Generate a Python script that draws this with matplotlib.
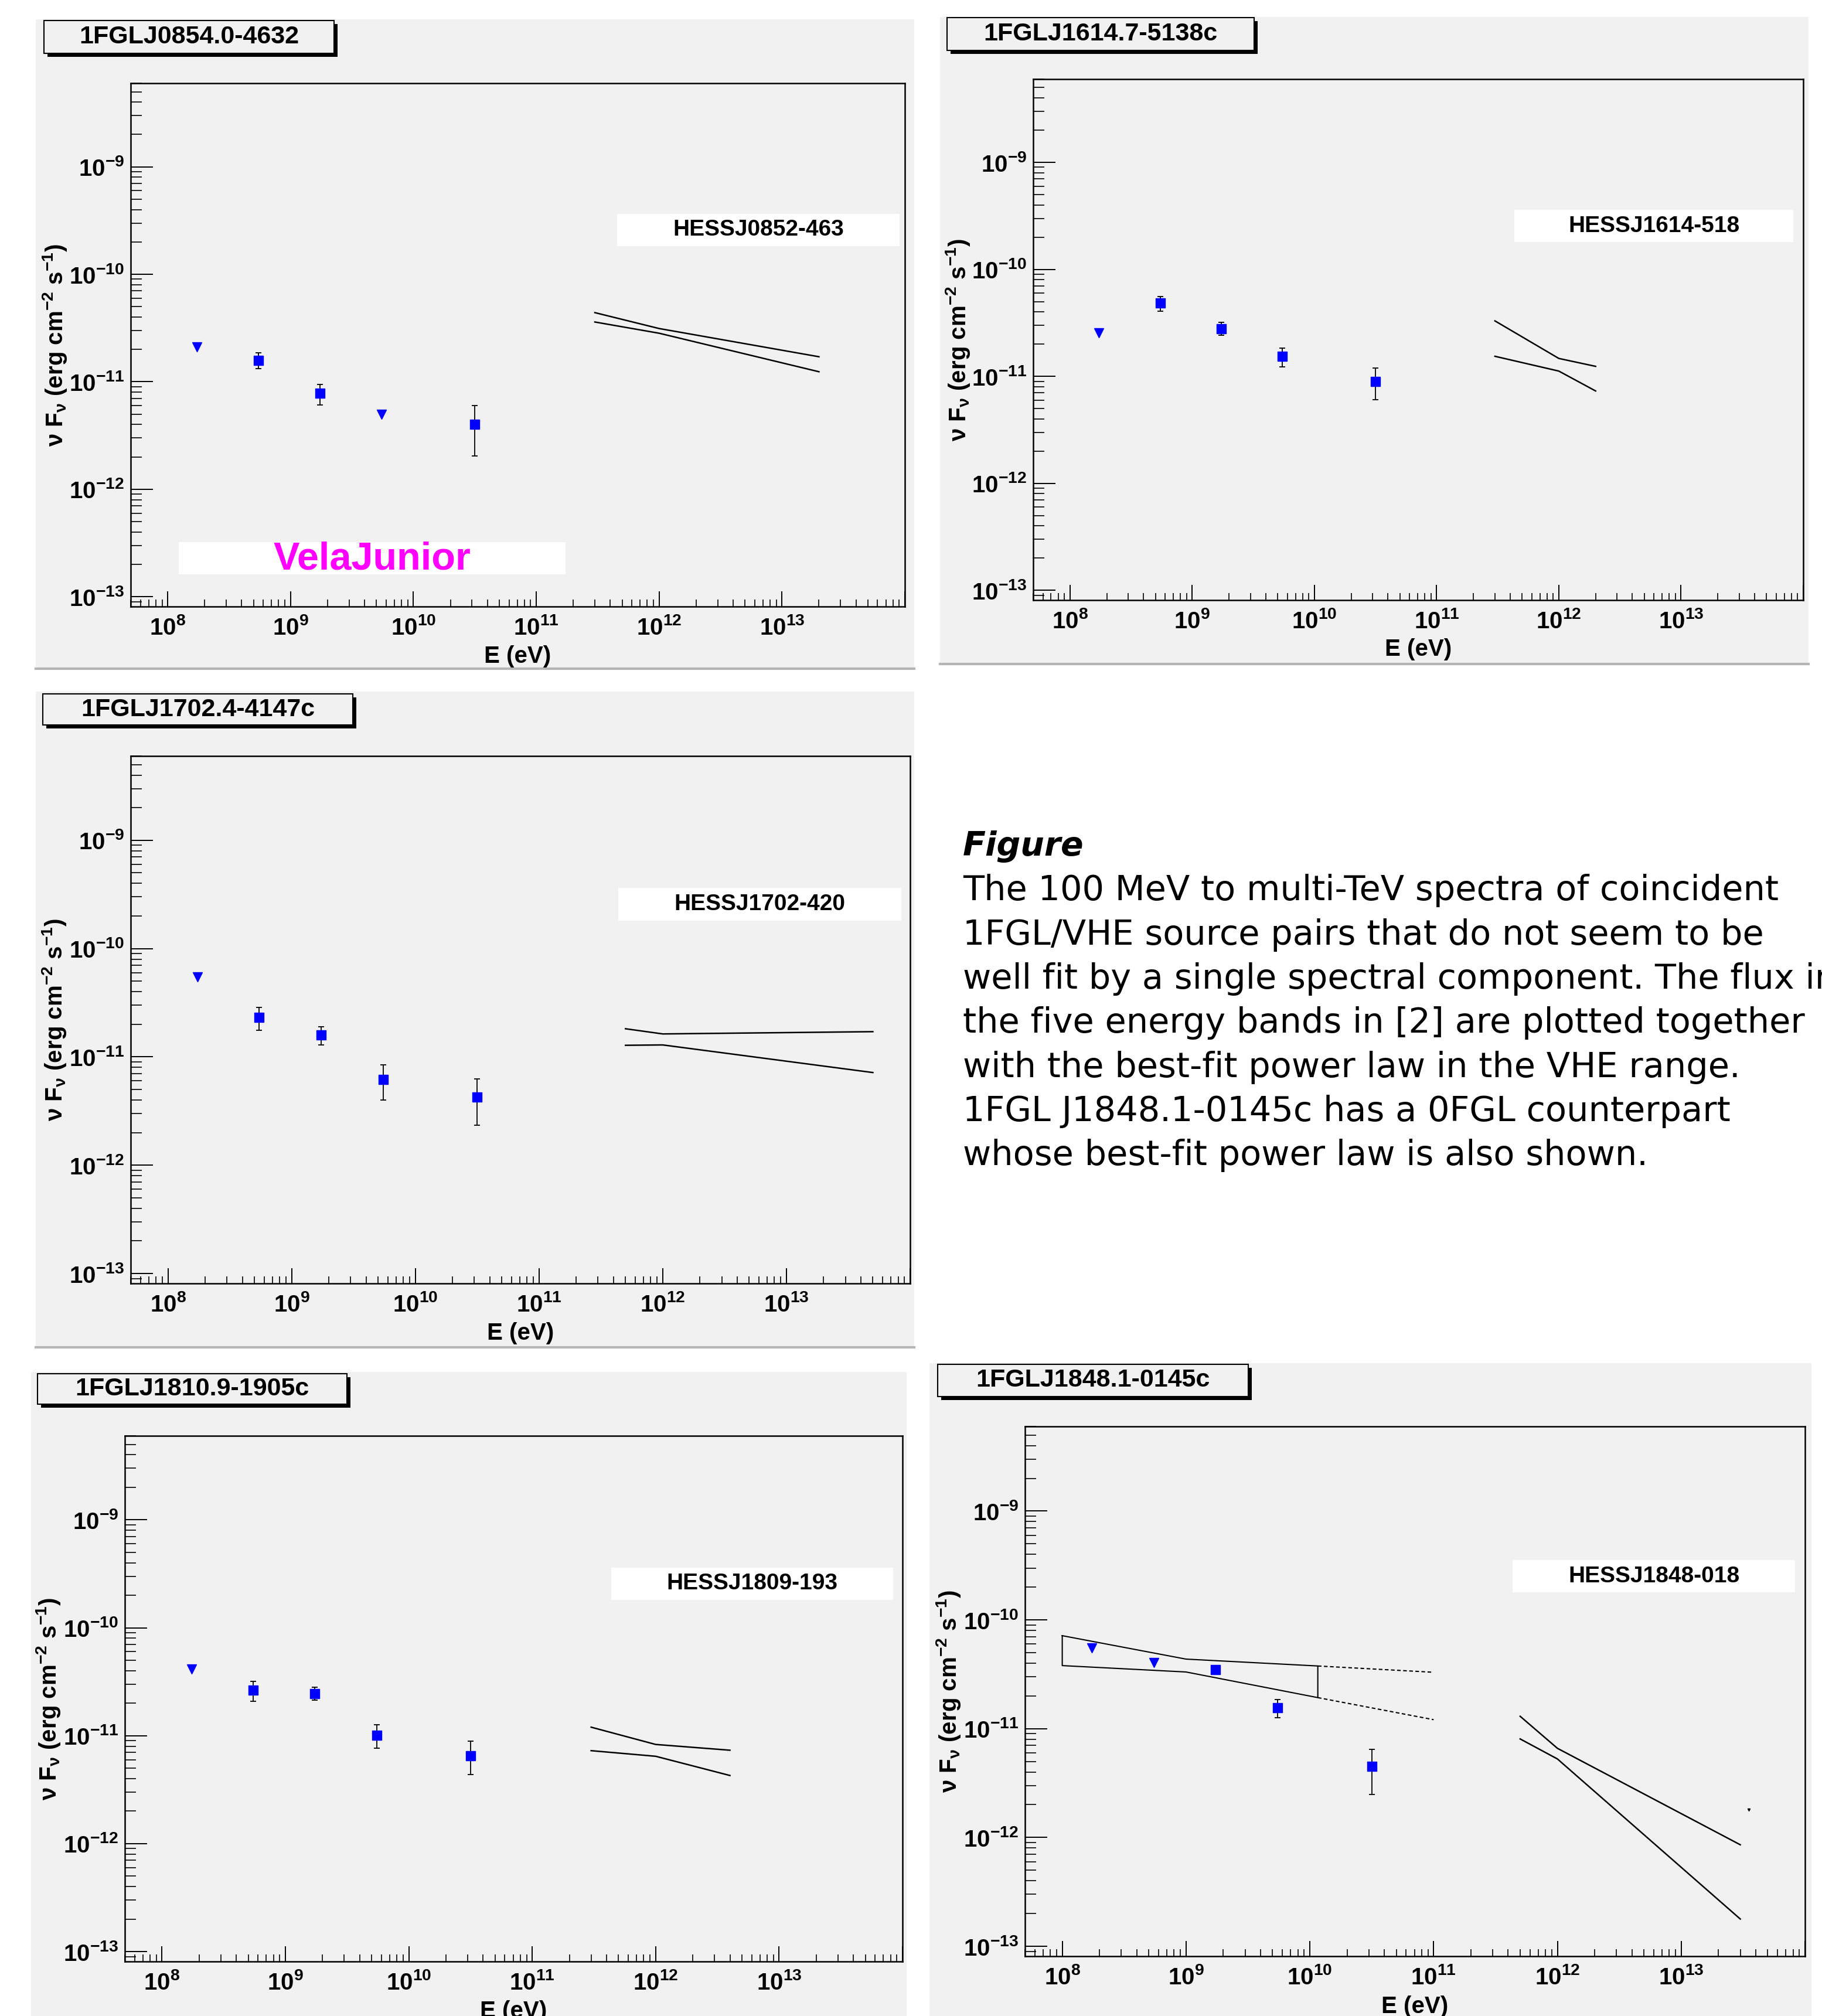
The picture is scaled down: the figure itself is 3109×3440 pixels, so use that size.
import numpy as np
import matplotlib
matplotlib.use('Agg')
import matplotlib.pyplot as plt
from matplotlib.patches import Rectangle
from matplotlib.lines import Line2D
from matplotlib.ticker import LogLocator, FuncFormatter, NullFormatter

plt.rcParams['font.family'] = ['Liberation Sans', 'DejaVu Sans']
plt.rcParams['font.weight'] = 'bold'
plt.rcParams['mathtext.fontset'] = 'custom'
plt.rcParams['mathtext.rm'] = 'Liberation Sans:bold'
plt.rcParams['mathtext.bf'] = 'Liberation Sans:bold'
plt.rcParams['mathtext.it'] = 'Liberation Sans:bold:italic'
plt.rcParams['mathtext.sf'] = 'Liberation Sans:bold'
plt.rcParams['mathtext.default'] = 'rm'

W, H = 3109, 3440
BG = '#f1f1f1'

# ---- data ----
band_e = [1.73e8, 5.48e8, 1.73e9, 5.48e9, 3.16e10]

fermi_names = ['1FGLJ0854.0-4632', '1FGLJ1614.7-5138c', '1FGLJ1702.4-4147c',
               '1FGLJ1810.9-1905c', '1FGLJ1848.1-0145c']
hess_names = ['HESSJ0852-463', 'HESSJ1614-518', 'HESSJ1702-420',
              'HESSJ1809-193', 'HESSJ1848-018']

# 1FGL J0854.0-4632
flux_0854 = [2.1e-11, 1.58e-11, 7.8e-12, 5.0e-12, 4.0e-12]
lo_0854 = [np.nan, 1.32e-11, 6.1e-12, np.nan, 2.05e-12]
hi_0854 = [np.nan, 1.87e-11, 9.5e-12, np.nan, 6.0e-12]
ul_0854 = [True, False, False, True, False]
hess_e_0852 = [3e11, 1e12, 2e13]
hess_up_0852 = [4.4e-11, 3.13e-11, 1.71e-11]
hess_dn_0852 = [3.6e-11, 2.83e-11, 1.24e-11]

# 1FGL J1614.7-5138c
flux_1614 = [2.56e-11, 4.85e-11, 2.79e-11, 1.54e-11, 9.0e-12]
lo_1614 = [np.nan, 4.06e-11, 2.43e-11, 1.22e-11, 6.04e-12]
hi_1614 = [np.nan, 5.6e-11, 3.18e-11, 1.84e-11, 1.2e-11]
ul_1614 = [True, False, False, False, False]
hess_e_1614 = [3e11, 1e12, 2e12]
hess_up_1614 = [3.3e-11, 1.47e-11, 1.24e-11]
hess_dn_1614 = [1.54e-11, 1.12e-11, 7.3e-12]

# 1FGL J1702.4-4147c
flux_1702 = [5.46e-11, 2.31e-11, 1.585e-11, 6.2e-12, 4.28e-12]
lo_1702 = [np.nan, 1.77e-11, 1.29e-11, 4.0e-12, 2.35e-12]
hi_1702 = [np.nan, 2.86e-11, 1.89e-11, 8.4e-12, 6.3e-12]
ul_1702 = [True, False, False, False, False]
hess_e_1702 = [5e11, 1e12, 5e13]
hess_up_1702 = [1.82e-11, 1.63e-11, 1.71e-11]
hess_dn_1702 = [1.28e-11, 1.29e-11, 7.17e-12]

# 1FGL J1810.9-1905c
flux_1810 = [4.14e-11, 2.65e-11, 2.46e-11, 1.01e-11, 6.52e-12]
lo_1810 = [np.nan, 2.09e-11, 2.13e-11, 7.67e-12, 4.36e-12]
hi_1810 = [np.nan, 3.18e-11, 2.8e-11, 1.26e-11, 8.9e-12]
ul_1810 = [True, False, False, False, False]
hess_e_1809 = [3e11, 1e12, 4e12]
hess_up_1809 = [1.2e-11, 8.3e-12, 7.34e-12]
hess_dn_1809 = [7.27e-12, 6.45e-12, 4.28e-12]

# 1FGL J1848.1-0145c
flux_1848 = [5.5e-11, 4.06e-11, 3.51e-11, 1.56e-11, 4.48e-12]
lo_1848 = [np.nan, np.nan, 3.3e-11, 1.26e-11, 2.49e-12]
hi_1848 = [np.nan, np.nan, 3.7e-11, 1.86e-11, 6.49e-12]
ul_1848 = [True, True, False, False, False]
hess_e_1848 = [5e11, 1e12, 3e13]
hess_up_1848 = [1.3e-11, 6.6e-12, 8.57e-13]
hess_dn_1848 = [8.05e-12, 5.27e-12, 1.78e-13]
# 0FGL counterpart power law (solid bowtie + dashed extrapolation)
ofgl_e = [1e8, 1e9, 1.16e10]
ofgl_up = [7.16e-11, 4.36e-11, 3.77e-11]
ofgl_dn = [3.8e-11, 3.32e-11, 1.93e-11]
ofgl_ext_e = [1.16e10, 1e11]
ofgl_ext_up = [3.77e-11, 3.3e-11]
ofgl_ext_dn = [1.93e-11, 1.21e-11]
stray_e, stray_f = [3.5e13], [1.8e-12]

caption_title = 'Figure'
caption_lines = [
    'The 100 MeV to multi-TeV spectra of coincident',
    '1FGL/VHE source pairs that do not seem to be',
    'well fit by a single spectral component. The flux in',
    'the five energy bands in [2] are plotted together',
    'with the best-fit power law in the VHE range.',
    '1FGL J1848.1-0145c has a 0FGL counterpart',
    'whose best-fit power law is also shown.',
]

# ---- layout in pixels (x0, y0, x1, y1), y downward ----
layout = [
    dict(bg=(61, 33, 1560, 1141), frame=(223, 142, 1544, 1035),
         title=(75, 35, 570, 91), label=(1053, 365, 1535, 420), sep=True),
    dict(bg=(1604, 29, 3086, 1133), frame=(1763, 135, 3077, 1024),
         title=(1616, 30, 2140, 86), label=(2584, 358, 3060, 413), sep=True),
    dict(bg=(61, 1180, 1560, 2299), frame=(223, 1290, 1553, 2190),
         title=(73, 1184, 602, 1237), label=(1055, 1515, 1538, 1571), sep=True),
    dict(bg=(53, 2341, 1547, 3440), frame=(213, 2450, 1540, 3347),
         title=(64, 2344, 592, 2396), label=(1043, 2675, 1524, 2730), sep=False),
    dict(bg=(1586, 2326, 3091, 3440), frame=(1749, 2434, 3080, 3338),
         title=(1600, 2328, 2130, 2383), label=(2581, 2662, 3063, 2717), sep=False),
]

panels = [
    (flux_0854, lo_0854, hi_0854, ul_0854, hess_e_0852, hess_up_0852, hess_dn_0852),
    (flux_1614, lo_1614, hi_1614, ul_1614, hess_e_1614, hess_up_1614, hess_dn_1614),
    (flux_1702, lo_1702, hi_1702, ul_1702, hess_e_1702, hess_up_1702, hess_dn_1702),
    (flux_1810, lo_1810, hi_1810, ul_1810, hess_e_1809, hess_up_1809, hess_dn_1809),
    (flux_1848, lo_1848, hi_1848, ul_1848, hess_e_1848, hess_up_1848, hess_dn_1848),
]

fig = plt.figure(figsize=(W / 100, H / 100), dpi=100)
fig.patch.set_facecolor('white')


def frect(box, **kw):
    x0, y0, x1, y1 = box
    return Rectangle((x0 / W, 1 - y1 / H), (x1 - x0) / W, (y1 - y0) / H,
                     transform=fig.transFigure, **kw)


def fx(x):
    return x / W


def fy(y):
    return 1 - y / H


def dec_label(v, p):
    k = int(round(np.log10(v)))
    if k >= 14:
        return ''
    return r'$10^{%d}$' % k


dec_fmt = FuncFormatter(dec_label)

for lay, data, fname, hname in zip(layout, panels, fermi_names, hess_names):
    flux, lo, hi, ul, he, hup, hdn = data
    fig.add_artist(frect(lay['bg'], facecolor=BG, edgecolor='none', zorder=-5))
    if lay['sep']:
        x0, _, x1, y1 = lay['bg']
        fig.add_artist(Line2D([fx(x0), fx(x1)], [fy(y1), fy(y1)], color='#b5b5b5',
                              lw=3, transform=fig.transFigure, zorder=-4))

    x0, y0, x1, y1 = lay['frame']
    ax = fig.add_axes([x0 / W, 1 - y1 / H, (x1 - x0) / W, (y1 - y0) / H])
    ax.set_facecolor(BG)
    ax.set_xscale('log')
    ax.set_yscale('log')
    ax.set_xlim(5e7, 1e14)
    ax.set_ylim(8.1e-14, 6e-9)
    for s in ax.spines.values():
        s.set_linewidth(1.8)
    ax.xaxis.set_major_locator(LogLocator(base=10, numticks=20))
    ax.yaxis.set_major_locator(LogLocator(base=10, numticks=20))
    ax.xaxis.set_minor_locator(LogLocator(base=10, subs=np.arange(2, 10), numticks=100))
    ax.yaxis.set_minor_locator(LogLocator(base=10, subs=np.arange(2, 10), numticks=100))
    ax.xaxis.set_major_formatter(dec_fmt)
    ax.yaxis.set_major_formatter(dec_fmt)
    ax.xaxis.set_minor_formatter(NullFormatter())
    ax.yaxis.set_minor_formatter(NullFormatter())
    ax.tick_params(axis='y', which='major', direction='in', length=27, width=1.4,
                   labelsize=29, pad=8, right=False)
    ax.tick_params(axis='y', which='minor', direction='in', length=14, width=1.2, right=False)
    ax.tick_params(axis='x', which='major', direction='in', length=19, width=1.4,
                   labelsize=29, pad=12, top=False)
    ax.tick_params(axis='x', which='minor', direction='in', length=9, width=1.2, top=False)

    ax.set_xlabel('E (eV)', fontsize=29, fontweight='bold')
    ax.set_ylabel('ν F$_{ν}$ (erg cm$^{-2}$ s$^{-1}$)', fontsize=29, fontweight='bold')
    ax.xaxis.set_label_coords(0.5, -0.095)
    ax.xaxis.label.set_va('center')
    ax.yaxis.set_label_coords(-0.098, 0.5)
    ax.yaxis.label.set_va('center')

    e = np.array(band_e)
    f = np.array(flux)
    m = ~np.array(ul)
    ax.errorbar(e[m], f[m], yerr=[f[m] - np.array(lo)[m], np.array(hi)[m] - f[m]],
                fmt='none', ecolor='black', elinewidth=1.3, capsize=3.5, capthick=1.3,
                zorder=3)
    ax.plot(e[m], f[m], 's', color='#0000ff', ms=11, mec='#0000ff', zorder=4)
    ax.plot(e[~m], f[~m], 'v', color='#0000ff', ms=11, mec='#0000ff', zorder=4)

    ax.plot(he, hup, color='black', lw=1.8)
    ax.plot(he, hdn, color='black', lw=1.8)

    # title box with shadow
    tx0, ty0, tx1, ty1 = lay['title']
    fig.add_artist(frect((tx0 + 6, ty0 + 6, tx1 + 6, ty1 + 6), facecolor='black',
                         edgecolor='none', zorder=2))
    fig.add_artist(frect(lay['title'], facecolor=BG, edgecolor='black', lw=1.5, zorder=3))
    fig.text(fx((tx0 + tx1) / 2), fy((ty0 + ty1) / 2), fname, fontsize=31,
             fontweight='bold', ha='center', va='center', zorder=4)

    # HESS source label
    lx0, ly0, lx1, ly1 = lay['label']
    fig.add_artist(frect(lay['label'], facecolor='white', edgecolor='none', zorder=2))
    fig.text(fx((lx0 + lx1) / 2), fy((ly0 + ly1) / 2), hname, fontsize=28,
             fontweight='bold', ha='center', va='center', zorder=4)

    if fname.startswith('1FGLJ0854'):
        vbox = (305, 925, 965, 980)
        fig.add_artist(frect(vbox, facecolor='white', edgecolor='none', zorder=2))
        fig.text(fx((vbox[0] + vbox[2]) / 2), fy((vbox[1] + vbox[3]) / 2 + 2), 'VelaJunior',
                 fontsize=48, fontweight='bold', color='#ff00ff', ha='center', va='center',
                 zorder=4)

    if fname.startswith('1FGLJ1848'):
        ax.plot(ofgl_e + ofgl_e[::-1][:1] + ofgl_e[::-1] + ofgl_e[:1],
                ofgl_up + ofgl_dn[::-1][:1] + ofgl_dn[::-1] + ofgl_up[:1],
                color='black', lw=1.5)
        ax.plot(ofgl_ext_e, ofgl_ext_up, color='black', lw=1.5, ls=(0, (3, 2)))
        ax.plot(ofgl_ext_e, ofgl_ext_dn, color='black', lw=1.5, ls=(0, (3, 2)))
        ax.plot(stray_e, stray_f, 'v', color='black', ms=3)

# caption
fig.text(fx(1643), fy(1444), caption_title, fontfamily='DejaVu Sans', fontweight='bold',
         style='italic', fontsize=41, va='center', ha='left')
for i, line in enumerate(caption_lines):
    fig.text(fx(1643), fy(1520 + i * 75.3), line, fontfamily='DejaVu Sans',
             fontweight='normal', fontsize=42.5, va='center', ha='left')

fig.savefig('out.png', dpi=100, facecolor='white')
